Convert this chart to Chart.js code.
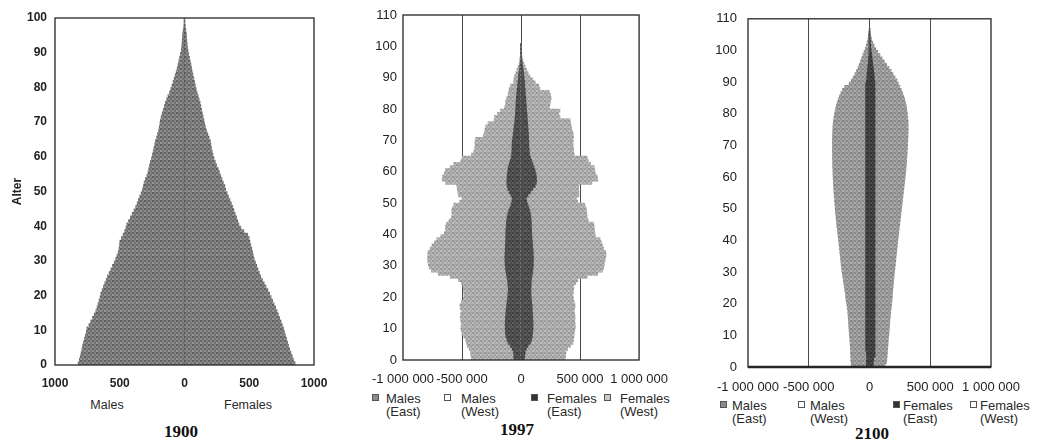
<!DOCTYPE html>
<html>
<head>
<meta charset="utf-8">
<script src="https://cdn.jsdelivr.net/npm/chart.js@4.4.1/dist/chart.umd.min.js"></script>
<style>
    body { margin: 0; background: #fff; font-family: "Liberation Sans", Arial, sans-serif; }
    #page { position: relative; width: 1041px; height: 443px; overflow: hidden; }
    .box { position: absolute; top: 0; }
    .lbl { position: absolute; color: #2a2a2a; font-size: 12.5px; white-space: nowrap; transform: translate(-50%, -50%); }
    .year { position: absolute; font-family: "Liberation Serif", "Times New Roman", serif; font-weight: bold; font-size: 17px; color: #111; transform: translate(-50%, -50%); }
    .leg { position: absolute; font-size: 13px; line-height: 13px; color: #2a2a2a; white-space: nowrap; }
    .mk { position: absolute; width: 5px; height: 5px; border: 1px solid #555; }
</style>
</head>
<body>
<div id="page">
    <div class="box" style="left:0;width:340px;height:395px"><canvas id="c1900"></canvas></div>
    <div class="box" style="left:340px;width:340px;height:390px"><canvas id="c1997"></canvas></div>
    <div class="box" style="left:690px;width:351px;height:395px"><canvas id="c2100"></canvas></div>

    <div class="lbl" style="left:107px;top:405px">Males</div>
    <div class="lbl" style="left:248px;top:405px">Females</div>
    <div class="year" style="left:181px;top:432px">1900</div>

    <div class="mk" style="left:372px;top:394px;background:#8a8a8a"></div>
    <div class="leg" style="left:386px;top:392px">Males<br>(East)</div>
    <div class="mk" style="left:444px;top:394px;background:#fff"></div>
    <div class="leg" style="left:461px;top:392px">Males<br>(West)</div>
    <div class="mk" style="left:531px;top:394px;background:#333"></div>
    <div class="leg" style="left:547px;top:392px">Females<br>(East)</div>
    <div class="mk" style="left:604px;top:394px;background:#c8c8c8"></div>
    <div class="leg" style="left:620px;top:392px">Females<br>(West)</div>
    <div class="year" style="left:517px;top:430px">1997</div>

    <div class="mk" style="left:720px;top:401px;background:#8a8a8a"></div>
    <div class="leg" style="left:732px;top:399px">Males<br>(East)</div>
    <div class="mk" style="left:798px;top:401px;background:#fff"></div>
    <div class="leg" style="left:810px;top:399px">Males<br>(West)</div>
    <div class="mk" style="left:893px;top:401px;background:#333"></div>
    <div class="leg" style="left:903px;top:399px">Females<br>(East)</div>
    <div class="mk" style="left:970px;top:401px;background:#fff"></div>
    <div class="leg" style="left:980px;top:399px">Females<br>(West)</div>
    <div class="year" style="left:872px;top:434px">2100</div>
</div>

<script>
// Population by single year of age (index = age), in thousands

// 1900
const males1900 = [
    821, 812, 805, 798, 792, 787, 780, 773, 766, 758,
    754, 738, 724, 710, 697, 685, 676, 668, 660, 652,
    646, 636, 626, 616, 605, 595, 582, 569, 556, 543,
    531, 522, 512, 506, 502, 500, 488, 474, 462, 452,
    446, 432, 418, 404, 390, 377, 366, 356, 346, 335,
    325, 318, 312, 302, 290, 282, 276, 270, 264, 255,
    248, 242, 236, 230, 225, 215, 208, 200, 195, 190,
    187, 180, 172, 164, 156, 148, 138, 128, 116, 106,
    97, 88, 80, 72, 64, 56, 50, 44, 38, 32,
    25, 22, 20, 18, 16, 14, 10, 6, 3, 1,
    0
];
const females1900 = [
    854, 842, 832, 822, 812, 803, 796, 788, 780, 772,
    765, 755, 745, 735, 725, 715, 704, 692, 681, 669,
    657, 644, 630, 616, 602, 589, 578, 568, 558, 548,
    538, 532, 526, 520, 512, 505, 500, 488, 458, 435,
    420, 411, 402, 392, 382, 373, 362, 351, 340, 329,
    318, 312, 300, 290, 280, 270, 260, 248, 238, 228,
    220, 214, 208, 204, 200, 190, 180, 170, 162, 156,
    150, 144, 138, 132, 126, 121, 113, 105, 97, 90,
    84, 78, 72, 66, 60, 55, 50, 44, 38, 32,
    27, 23, 20, 18, 16, 14, 10, 6, 3, 1,
    0
];

// 1997
const malesEast1997 = [
    60, 62, 65, 75, 90, 110, 120, 128, 132, 134,
    134, 135, 133, 132, 130, 128, 125, 122, 118, 115,
    112, 110, 108, 110, 112, 115, 120, 125, 130, 132,
    135, 136, 137, 136, 135, 134, 133, 132, 130, 130,
    130, 128, 126, 124, 122, 118, 112, 105, 95, 85,
    78, 75, 85, 100, 112, 118, 120, 120, 118, 115,
    112, 108, 100, 92, 85, 80, 78, 77, 76, 75,
    72, 68, 65, 62, 58, 55, 52, 50, 48, 46,
    44, 43, 42, 40, 38, 35, 32, 30, 26, 24,
    22, 18, 14, 10, 7, 5, 4, 3, 2, 1,
    1
];
const malesWest1997 = [
    360, 363, 363, 365, 365, 352, 350, 357, 368, 374,
    376, 370, 377, 383, 382, 377, 390, 396, 387, 375,
    372, 376, 380, 382, 393, 415, 480, 575, 630, 646,
    650, 654, 655, 654, 653, 636, 622, 603, 585, 550,
    520, 512, 514, 508, 488, 472, 473, 483, 487, 485,
    442, 425, 445, 435, 428, 427, 520, 548, 547, 535,
    528, 492, 470, 418, 415, 340, 322, 316, 314, 315,
    313, 252, 245, 243, 242, 225, 176, 175, 152, 129,
    96, 89, 88, 82, 72, 70, 68, 60, 36, 36,
    33, 27, 21, 15, 9, 7, 4, 2, 1, 1,
    0
];
const femalesEast1997 = [
    30, 32, 35, 45, 60, 80, 90, 95, 98, 100,
    102, 102, 100, 100, 98, 96, 95, 93, 90, 88,
    85, 84, 84, 85, 86, 88, 92, 96, 100, 102,
    104, 105, 105, 104, 103, 100, 98, 96, 94, 92,
    90, 90, 88, 88, 86, 84, 80, 74, 66, 58,
    48, 45, 60, 80, 100, 120, 130, 132, 130, 125,
    118, 110, 100, 90, 80, 72, 70, 68, 66, 66,
    65, 64, 62, 60, 58, 56, 54, 52, 50, 48,
    45, 44, 42, 40, 38, 36, 34, 32, 30, 28,
    25, 22, 18, 14, 10, 7, 5, 3, 2, 1,
    1
];
const femalesWest1997 = [
    345, 346, 345, 350, 360, 360, 355, 353, 352, 355,
    358, 356, 355, 358, 357, 354, 360, 365, 360, 357,
    355, 358, 361, 363, 379, 392, 468, 554, 590, 598,
    601, 605, 610, 616, 615, 600, 592, 584, 576, 538,
    535, 532, 532, 527, 484, 476, 478, 481, 484, 482,
    432, 425, 430, 410, 388, 370, 470, 518, 515, 505,
    507, 510, 490, 480, 480, 378, 375, 377, 374, 376,
    375, 381, 378, 370, 367, 364, 361, 278, 270, 282,
    195, 201, 208, 215, 212, 204, 126, 118, 90, 72,
    50, 38, 30, 21, 15, 8, 5, 3, 1, 1,
    0
];

// 2100
const malesEast2100 = [
    25, 25, 25, 25, 25, 32, 32, 32, 32, 32,
    32, 32, 32, 32, 32, 32, 32, 32, 32, 32,
    32, 32, 32, 32, 32, 32, 32, 32, 32, 32,
    32, 32, 32, 32, 32, 32, 32, 32, 32, 32,
    32, 32, 32, 32, 32, 32, 32, 32, 32, 32,
    32, 32, 32, 32, 32, 32, 32, 32, 32, 32,
    32, 32, 32, 32, 32, 32, 32, 32, 32, 32,
    32, 32, 32, 32, 32, 32, 32, 32, 32, 32,
    32, 32, 32, 32, 32, 32, 32, 32, 32, 32,
    25, 22, 20, 18, 15, 12, 10, 8, 6, 5,
    4, 3, 2, 2, 1, 1, 0
];
const malesWest2100 = [
    125, 127, 129, 130, 131, 125, 126, 128, 130, 132,
    134, 136, 138, 140, 141, 143, 145, 147, 150, 154,
    158, 162, 165, 168, 172, 176, 180, 184, 188, 192,
    196, 199, 202, 205, 207, 210, 213, 215, 218, 221,
    224, 227, 230, 233, 236, 239, 242, 244, 247, 249,
    251, 253, 255, 257, 259, 261, 263, 264, 265, 267,
    268, 269, 270, 271, 272, 272, 273, 273, 273, 273,
    273, 273, 273, 272, 271, 270, 268, 265, 262, 258,
    253, 248, 241, 234, 226, 216, 204, 190, 173, 136,
    125, 112, 100, 89, 80, 73, 65, 57, 49, 40,
    31, 24, 18, 12, 8, 4, 2
];
const femalesEast2100 = [
    30, 32, 35, 45, 45, 45, 45, 45, 45, 45,
    45, 45, 45, 45, 45, 45, 45, 45, 45, 45,
    45, 45, 45, 45, 45, 45, 45, 45, 45, 45,
    45, 45, 45, 45, 45, 45, 45, 45, 45, 45,
    45, 45, 45, 45, 45, 45, 45, 45, 45, 45,
    45, 45, 45, 45, 45, 45, 45, 45, 45, 45,
    45, 45, 45, 45, 45, 45, 45, 45, 45, 45,
    45, 45, 45, 45, 45, 45, 45, 45, 45, 45,
    45, 45, 45, 45, 45, 45, 45, 45, 45, 45,
    42, 40, 38, 35, 32, 28, 25, 22, 18, 15,
    12, 10, 8, 6, 4, 3, 1
];
const femalesWest2100 = [
    97, 108, 108, 100, 102, 104, 106, 108, 110, 112,
    115, 117, 119, 121, 123, 125, 127, 130, 133, 136,
    139, 141, 143, 145, 147, 150, 152, 154, 157, 159,
    162, 165, 168, 171, 173, 176, 179, 182, 184, 187,
    190, 193, 196, 199, 202, 205, 208, 211, 214, 217,
    220, 223, 226, 229, 232, 235, 238, 241, 244, 247,
    250, 253, 255, 257, 259, 261, 263, 265, 266, 267,
    269, 270, 271, 272, 273, 273, 273, 272, 270, 267,
    265, 261, 257, 251, 245, 237, 227, 217, 205, 193,
    184, 170, 156, 143, 128, 113, 97, 82, 68, 53,
    39, 28, 19, 12, 7, 3, 1
];

// Axis ticks
const xTicks = [-1000, -500, 0, 500, 1000];
const yTicks1900 = [0, 10, 20, 30, 40, 50, 60, 70, 80, 90, 100];
const yTicks = [0, 10, 20, 30, 40, 50, 60, 70, 80, 90, 100, 110];

// Ordered dither for the grainy print look (no randomness)
const bayer = [
    [0, 8, 2, 10],
    [12, 4, 14, 6],
    [3, 11, 1, 9],
    [15, 7, 13, 5]
];

function makeTexture(base, spread) {
    const c = document.createElement('canvas');
    c.width = 8;
    c.height = 8;
    const g = c.getContext('2d');
    for (let y = 0; y < 4; y++) {
        for (let x = 0; x < 4; x++) {
            const k = bayer[y][x];
            const v = Math.max(0, Math.min(255, Math.round(base + (k / 15 - 0.5) * spread)));
            g.fillStyle = 'rgb(' + v + ',' + v + ',' + v + ')';
            g.fillRect(x * 2, y * 2, 2, 2);
        }
    }
    return g.createPattern(c, 'repeat');
}

// Frame around the plot area
const framePlugin = {
    id: 'frame',
    afterDraw: function(chart, args, opts) {
        const ctx = chart.ctx;
        const a = chart.chartArea;
        ctx.save();
        ctx.strokeStyle = '#262626';
        ctx.lineWidth = opts.width || 1.3;
        ctx.strokeRect(a.left, a.top, a.right - a.left, a.bottom - a.top);
        if (opts.bottom) {
            ctx.lineWidth = opts.bottom;
            ctx.beginPath();
            ctx.moveTo(a.left, a.bottom);
            ctx.lineTo(a.right, a.bottom);
            ctx.stroke();
        }
        ctx.restore();
    }
};

// Males go to the left (negative), bars sit in the middle of the age year
function toPoints(values, sign) {
    return values.map(function(v, age) {
        return { x: sign * v, y: age + 0.5 };
    });
}

function bar(label, values, sign, color) {
    return {
        label: label,
        data: toPoints(values, sign),
        backgroundColor: color,
        borderWidth: 0,
        barPercentage: 1,
        categoryPercentage: 1,
        stack: 'pop'
    };
}

// Number with spaces: 1 000 000 (values are in thousands)
function formatPeople(v) {
    return Math.round(v * 1000).toString().replace(/\B(?=(\d{3})+(?!\d))/g, ' ');
}

function initPyramid(id, datasets, o) {
    new Chart(document.getElementById(id), {
        type: 'bar',
        data: { datasets: datasets },
        options: {
            indexAxis: 'y',
            responsive: true,
            maintainAspectRatio: false,
            animation: false,
            layout: { padding: { top: o.top, right: o.right, left: 0, bottom: 0 } },
            plugins: {
                legend: { display: false },
                tooltip: { enabled: false },
                frame: { bottom: o.frameBottom }
            },
            scales: {
                x: {
                    type: 'linear',
                    min: -1000,
                    max: 1000,
                    stacked: true,
                    offset: false,
                    z: o.gridZ,
                    afterBuildTicks: function(scale) {
                        scale.ticks = xTicks.map(function(v) { return { value: v }; });
                    },
                    afterFit: function(scale) { scale.height = o.xHeight; },
                    border: { display: false },
                    grid: {
                        offset: false,
                        drawTicks: false,
                        lineWidth: 1,
                        color: function(c) {
                            return o.gridAt.indexOf(c.tick.value) >= 0 ? '#4a4a4a' : 'rgba(0,0,0,0)';
                        }
                    },
                    ticks: {
                        padding: o.xPad,
                        autoSkip: false,
                        maxRotation: 0,
                        color: '#222',
                        font: o.font,
                        callback: o.xLabel
                    }
                },
                y: {
                    type: 'linear',
                    min: 0,
                    max: o.yMax,
                    stacked: true,
                    offset: false,
                    afterBuildTicks: function(scale) {
                        scale.ticks = o.yTicks.map(function(v) { return { value: v }; });
                    },
                    afterFit: function(scale) { scale.width = o.yWidth; },
                    border: { display: false },
                    grid: { display: false, offset: false, drawTicks: false },
                    ticks: { padding: o.yPad, color: '#222', font: o.font },
                    title: o.yTitle || { display: false }
                }
            }
        },
        plugins: [framePlugin]
    });
}

document.addEventListener('DOMContentLoaded', function() {
    const grain1900 = makeTexture(122, 56);
    const east1997 = makeTexture(78, 40);
    const west1997 = makeTexture(170, 44);
    const east2100 = makeTexture(64, 32);
    const west2100 = makeTexture(152, 44);

    initPyramid('c1900', [
        bar('Males', males1900, -1, grain1900),
        bar('Females', females1900, 1, grain1900)
    ], {
        top: 18, right: 26, yWidth: 55, xHeight: 30, xPad: 11, yPad: 8,
        yMax: 100, yTicks: yTicks1900, gridAt: [0], gridZ: 1,
        font: { family: '"Liberation Sans", Arial, sans-serif', size: 12, weight: 'bold' },
        xLabel: function(v) { return String(Math.abs(v)); },
        yTitle: {
            display: true, text: 'Alter', color: '#222',
            font: { family: '"Liberation Sans", Arial, sans-serif', size: 12, weight: 'bold' },
            padding: { top: 10, bottom: 0 }
        }
    });

    initPyramid('c1997', [
        bar('Males (East)', malesEast1997, -1, east1997),
        bar('Males (West)', malesWest1997, -1, west1997),
        bar('Females (East)', femalesEast1997, 1, east1997),
        bar('Females (West)', femalesWest1997, 1, west1997)
    ], {
        top: 15, right: 28, yWidth: 63, xHeight: 30, xPad: 12, yPad: 6,
        yMax: 110, yTicks: yTicks, gridAt: [-500, 0, 500], gridZ: 0,
        font: { family: '"Liberation Sans", Arial, sans-serif', size: 13 },
        xLabel: formatPeople
    });

    initPyramid('c2100', [
        bar('Males (East)', malesEast2100, -1, east2100),
        bar('Males (West)', malesWest2100, -1, west2100),
        bar('Females (East)', femalesEast2100, 1, east2100),
        bar('Females (West)', femalesWest2100, 1, west2100)
    ], {
        top: 12, right: 50, yWidth: 58, xHeight: 28, xPad: 13, yPad: 11,
        yMax: 110, yTicks: yTicks, gridAt: [-500, 0, 500], gridZ: 0, frameBottom: 2.5,
        font: { family: '"Liberation Sans", Arial, sans-serif', size: 13 },
        xLabel: formatPeople
    });
});
</script>
</body>
</html>
